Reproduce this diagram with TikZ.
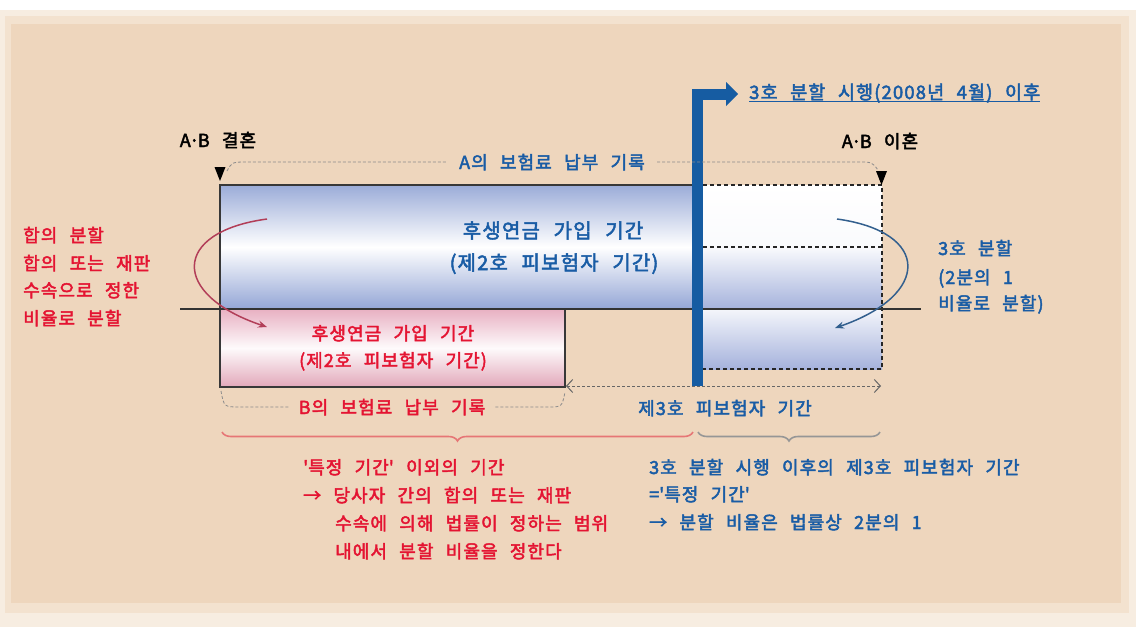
\documentclass[tikz,border=0pt]{standalone}
\usepackage{fontspec}
\setmainfont{Noto Sans CJK KR}[LetterSpace=6,WordSpace=2.4,FakeBold=2.5]
\usetikzlibrary{arrows.meta,decorations.pathreplacing,calc}
\definecolor{bgA}{RGB}{247,237,225}
\definecolor{bgB}{RGB}{243,226,207}
\definecolor{bgbeige}{RGB}{238,214,189}
\definecolor{tred}{RGB}{228,20,50}
\definecolor{tblue}{RGB}{25,92,165}
\definecolor{barblue}{RGB}{22,92,162}
\definecolor{abarA}{RGB}{155,172,216}
\definecolor{abarB}{RGB}{148,166,214}
\definecolor{pkA}{RGB}{232,176,194}
\definecolor{pkB}{RGB}{226,168,186}
\definecolor{rbB}{RGB}{165,178,220}
\definecolor{recgray}{RGB}{140,140,140}
\definecolor{bracered}{RGB}{230,118,118}
\definecolor{bracegray}{RGB}{150,150,150}
\definecolor{arrred}{RGB}{178,62,88}
\definecolor{arrblue}{RGB}{50,95,142}
\newcommand{\abdot}{A\kern-1.5pt·\kern-1.5pt B}
\begin{document}
\begin{tikzpicture}[x=1pt,y=1pt,
  txt/.style={inner sep=0pt,text height=16pt,text depth=2pt,font=\fontsize{18}{21}\selectfont},
  bigtxt/.style={inner sep=0pt,text height=18pt,text depth=2pt,font=\fontsize{20}{24}\selectfont},
  ttltxt/.style={inner sep=0pt,text height=16pt,text depth=2pt,font=\fontsize{18.5}{22}\selectfont},
  barborder/.style={draw=black!78,line width=1.3pt},
  boxdash/.style={draw=black!85,line width=1.6pt,dash pattern=on 4pt off 3pt},
  rec/.style={draw=recgray,line width=0.8pt,dash pattern=on 3pt off 2pt},
  recarrow/.style={draw=black!60,line width=1pt,dash pattern=on 3pt off 2pt},
  bracedeco/.style={decorate,decoration={brace,mirror,amplitude=9pt},line width=1.6pt},
  curvearrow/.style={line width=1.5pt,-{Stealth[length=9pt,width=7pt,inset=3pt]}}
]
\useasboundingbox (0,0) rectangle (1136,-627);
% background
\fill[white] (0,0) rectangle (1136,-627);
\fill[bgA] (0,-10) rectangle (1136,-627);
\fill[bgB] (5,-16) rectangle (1129,-613);
\fill[bgbeige] (11,-24) rectangle (1121,-603);

% A bar (upper)
\shade[top color=abarA,bottom color=abarB,middle color=white] (220,-185) rectangle (692,-309);
\draw[barborder] (692,-185) -- (220,-185) -- (220,-309);
% B bar (lower)
\shade[top color=pkA,bottom color=pkB,middle color=white!94!pkA] (220,-309) rectangle (565,-387);
\draw[barborder] (220,-309) rectangle (565,-387);
% right box
\shade[top color=white,bottom color=white!94!rbB] (692,-185) rectangle (882,-247);
\shade[top color=white!94!rbB,bottom color=rbB] (692,-247) rectangle (882,-309);
\shade[top color=white!88!rbB,bottom color=rbB] (692,-309) rectangle (882,-369);
\draw[boxdash] (703,-185) -- (882,-185) -- (882,-369) -- (703,-369);
\draw[boxdash] (703,-247) -- (882,-247);

% axis
\coordinate (axL) at (180,-309);
\coordinate (axR) at (921,-309);
\draw[black!80,line width=1.2pt] (axL) -- (axR);

% blue bar with arrow
\coordinate (bbot) at (697,-386);
\coordinate (btop) at (697,-94);
\coordinate (bend) at (729,-94);
\draw[barblue,line width=11pt] (bbot) -- (btop) -- (bend);
\fill[barblue] (726,-82) -- (738,-94) -- (726,-106) -- cycle;

% markers
\coordinate (lmk) at (220,-181);
\coordinate (rmk) at (881.5,-185);
\fill[black] (214.5,-167) -- (225.5,-167) -- (lmk) -- cycle;
\fill[black] (876,-171) -- (887,-171) -- (rmk) -- cycle;

% labels
\node[txt] (marry) at (218,-140) {\abdot{} 결혼};
\node[txt] (divorce) at (880,-141) {\abdot{} 이혼};
\node[ttltxt,text=tblue,anchor=west] (title) at (749,-92) {3호 분할 시행(2008년 4월) 이후};
\draw[tblue,line width=1.2pt] ([yshift=-0.5pt]title.south west) -- ([yshift=-0.5pt]title.south east);

% A record
\node[txt,text=tblue,inner xsep=12pt] (arec) at (552,-162) {A의 보험료 납부 기록};
\draw[rec] (227,-171) .. controls (232,-162) .. (248,-162) -- (arec.west);
\draw[rec] (arec.east) -- (858,-162) .. controls (872,-162) .. (878,-170);

% bar texts
\node[bigtxt,text=tblue] (a1) at (553,-230) {후생연금 가입 기간};
\node[bigtxt,text=tblue] (a2) at (554,-262) {(제2호 피보험자 기간)};
\node[txt,text=tred] (b1) at (393,-333) {후생연금 가입 기간};
\node[txt,text=tred] (b2) at (393,-360) {(제2호 피보험자 기간)};

% B record
\node[txt,text=tred,inner xsep=10pt] (brec) at (392,-407) {B의 보험료 납부 기록};
\draw[rec] (221,-391) .. controls (224,-407) .. (240,-407) -- (brec.west);
\draw[rec] (brec.east) -- (548,-407) .. controls (562,-407) .. (565,-392);

% third period arrow
\coordinate (pA) at (566,-386);
\coordinate (pB) at (881,-386);
\draw[recarrow,{Straight Barb[length=6pt,width=13pt]}-{Straight Barb[length=6pt,width=13pt]}] (pA) -- (pB);
\node[txt,text=tblue] (third) at (725,-408) {제3호 피보험자 기간};

% braces
\draw[bracedeco,bracered] (222,-432) -- (693,-432);
\draw[bracedeco,bracegray] (698,-432) -- (880,-432);

% curved arrows
\coordinate (rs) at (267,-219);
\coordinate (re) at (267,-327);
\draw[curvearrow,arrred] (rs) .. controls (171,-232) and (171,-295) .. (re);
\coordinate (bs) at (837,-219);
\coordinate (be) at (835,-328);
\draw[curvearrow,arrblue] (bs) .. controls (931,-232) and (931,-295) .. (be);

% left red text
\node[txt,text=tred,anchor=west] (l1) at (23,-235) {합의 분할};
\node[txt,text=tred,anchor=west] (l2) at (23,-263) {합의 또는 재판};
\node[txt,text=tred,anchor=west] (l3) at (23,-290) {수속으로 정한};
\node[txt,text=tred,anchor=west] (l4) at (23,-318) {비율로 분할};

% right blue text
\node[txt,text=tblue,anchor=west] (r1) at (938,-248) {3호 분할};
\node[txt,text=tblue,anchor=west] (r2) at (938,-277) {(2분의 1};
\node[txt,text=tblue,anchor=west] (r3) at (938,-303) {비율로 분할)};

% lower red text
\node[txt,text=tred,anchor=west] (d1) at (303,-467) {\textquotesingle 특정 기간\textquotesingle{} 이외의 기간};
\node[txt,text=tred,anchor=west] (d2) at (303,-495) {→ 당사자 간의 합의 또는 재판};
\node[txt,text=tred,anchor=west] (d3) at (335,-523) {수속에 의해 법률이 정하는 범위};
\node[txt,text=tred,anchor=west] (d4) at (335,-551) {내에서 분할 비율을 정한다};

% lower blue text
\node[txt,text=tblue,anchor=west] (e1) at (649,-467) {3호 분할 시행 이후의 제3호 피보험자 기간};
\node[txt,text=tblue,anchor=west] (e2) at (649,-494) {=\textquotesingle 특정 기간\textquotesingle};
\node[txt,text=tblue,anchor=west] (e3) at (649,-522) {→ 분할 비율은 법률상 2분의 1};
\end{tikzpicture}
\end{document}
